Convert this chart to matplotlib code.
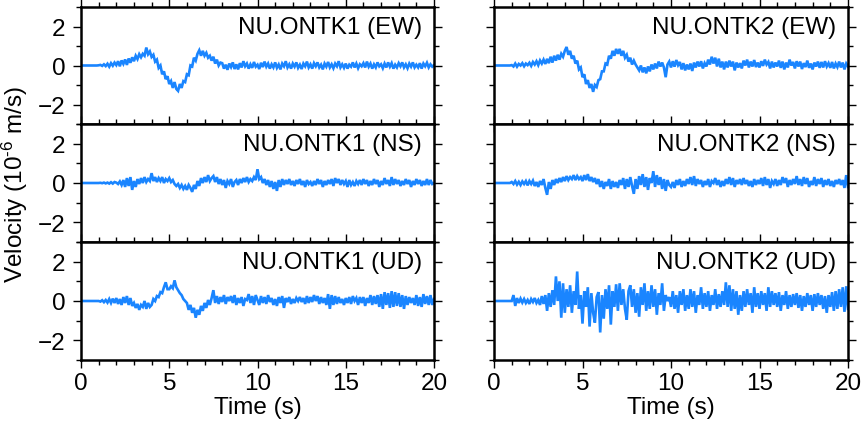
import numpy as np
import matplotlib
matplotlib.use("Agg")
import matplotlib.pyplot as plt
from matplotlib.ticker import MultipleLocator

plt.rcParams['font.family'] = ['Liberation Sans', 'DejaVu Sans']
plt.rcParams['mathtext.fontset'] = 'custom'
plt.rcParams['mathtext.rm'] = 'Liberation Sans'
plt.rcParams['mathtext.it'] = 'Liberation Sans:italic'

# time axis, 0.1 s steps
t = np.arange(201) * 0.1

ew1 = [
    0, 0, 0, 0, 0, 0, 0, 0, 0, 0,
    0.01, 0.03, -0.02, 0.06, -0.03, 0.09, -0.06, 0.12, -0.01, 0.15,
    0.02, 0.22, -0.04, 0.26, 0.08, 0.31, 0.03, 0.36, 0.14, 0.42,
    0.22, 0.5, 0.33, 0.58, 0.42, 0.6, 0.5, 0.92, 0.58, 0.72,
    0.44, 0.55, 0.2, 0.3, -0.12, 0.0, -0.45, -0.3, -0.7, -0.55,
    -0.95, -0.8, -1.15, -0.85, -1.2, -1.3, -0.95, -1.15, -0.8, -0.85,
    -0.45, -0.5, 0.0, -0.05, 0.4, 0.25, 0.6, 0.78, 0.5, 0.75,
    0.5, 0.65, 0.4, 0.5, 0.25, 0.45, 0.1, 0.3, 0.0, 0.15,
    0.12, -0.16, 0.04, -0.22, 0.1, -0.08, 0.16, -0.18, 0.06, -0.2,
    0.12, -0.1, 0.22, -0.04, 0.1, -0.16, 0.06, -0.12, 0.18, -0.06,
    0.04, -0.18, 0.14, -0.08, 0.2, -0.06, 0.1, -0.16, 0.06, -0.1,
    0.16, -0.12, 0.05, -0.2, 0.1, -0.04, 0.22, -0.1, 0.06, -0.16,
    0.1, -0.06, 0.16, -0.12, 0.04, -0.18, 0.1, -0.04, 0.2, -0.1,
    0.06, -0.16, 0.12, -0.04, 0.16, -0.1, 0.04, -0.2, 0.1, -0.06,
    0.18, -0.1, 0.06, -0.14, 0.1, -0.04, 0.22, -0.1, 0.06, -0.12,
    0.1, -0.16, 0.04, -0.06, 0.16, -0.1, 0.1, -0.14, 0.06, -0.04,
    0.12, -0.1, 0.2, -0.06, 0.1, -0.16, 0.06, -0.1, 0.16, -0.04,
    0.06, -0.14, 0.1, -0.1, 0.16, -0.06, 0.12, -0.16, 0.04, -0.1,
    0.12, -0.04, 0.16, -0.1, 0.06, -0.14, 0.1, -0.06, 0.16, -0.1,
    0.04, -0.1, 0.12, -0.16, 0.1, -0.04, 0.14, -0.1, 0.06, -0.06,
    0.02]

ew2 = [
    0, 0, 0, 0, 0, 0, 0, 0, 0, 0,
    0.02, -0.05, 0.1, -0.06, 0.08, 0.0, 0.12, -0.04, 0.1, 0.02,
    0.14, -0.02, 0.18, 0.05, 0.22, 0.02, 0.26, 0.1, 0.3, 0.08,
    0.34, 0.12, 0.45, 0.15, 0.5, 0.25, 0.55, 0.3, 0.6, 0.45,
    0.75, 0.95, 0.55, 0.75, 0.35, 0.5, 0.1, 0.25, -0.2, -0.1,
    -0.6, -0.45, -0.95, -0.75, -1.15, -0.95, -1.35, -1.0, -1.1, -0.75,
    -0.7, -0.3, -0.3, 0.1, 0.05, 0.5, 0.35, 0.75, 0.5, 0.85,
    0.6, 0.85, 0.5, 0.75, 0.4, 0.55, 0.2, 0.4, 0.05, 0.25,
    0.05, -0.1, -0.25, 0.0, -0.35, -0.1, -0.4, -0.05, -0.3, 0.05,
    -0.2, 0.1, -0.15, 0.2, -0.05, 0.15, -0.1, -0.6, 0.05, 0.2,
    -0.1, 0.22, -0.06, 0.28, 0.02, 0.18, -0.2, 0.12, -0.25, 0.05,
    -0.2, 0.1, -0.28, 0.15, -0.1, 0.2, -0.05, 0.22, -0.15, 0.12,
    -0.05, 0.3, 0.05, 0.45, 0.1, 0.4, -0.05, 0.35, -0.1, 0.2,
    -0.2, 0.2, -0.1, 0.25, -0.05, 0.2, -0.25, 0.15, -0.1, 0.12,
    -0.15, 0.25, 0.0, 0.3, -0.1, 0.2, -0.05, 0.28, -0.08, 0.15,
    -0.1, 0.22, -0.02, 0.3, 0.05, 0.18, -0.15, 0.2, -0.1, 0.15,
    -0.05, 0.25, -0.12, 0.2, -0.2, 0.15, -0.1, 0.3, 0.0, 0.18,
    -0.15, 0.22, -0.05, 0.2, -0.18, 0.12, -0.08, 0.25, -0.12, 0.1,
    -0.2, 0.15, -0.05, 0.2, -0.12, 0.18, -0.1, 0.22, -0.05, 0.12,
    -0.12, 0.18, -0.15, 0.1, -0.08, 0.2, -0.1, 0.15, -0.2, 0.1,
    -0.05]

ns1 = [
    0, 0, 0, 0, 0, 0, 0, 0, 0, 0,
    0, 0.01, -0.01, 0.02, -0.02, 0.02, -0.03, 0.04, -0.03, 0.05,
    0.02, -0.05, 0.08, -0.1, 0.15, -0.2, 0.25, -0.15, 0.3, -0.35,
    0.1, -0.2, 0.2, -0.05, 0.25, 0.0, 0.3, 0.05, 0.2, 0.1,
    0.5, 0.1, 0.3, 0.05, 0.25, 0.1, 0.3, 0.0, 0.2, 0.1,
    0.25, 0.05, 0.15, -0.05, -0.15, -0.05, -0.25, -0.1, -0.3, -0.15,
    -0.35, -0.1, -0.25, -0.45, -0.1, -0.3, 0.1, -0.15, 0.25, 0.0,
    0.3, 0.05, 0.4, 0.1, 0.25, 0.35, 0.05, 0.3, -0.05, 0.2,
    -0.1, 0.15, -0.25, 0.1, -0.05, 0.2, -0.2, 0.05, 0.15, -0.1,
    0.2, 0.0, 0.25, 0.05, 0.3, 0.05, 0.2, 0.1, 0.3, 0.15,
    0.7, 0.2, 0.3, 0.0, 0.2, -0.1, 0.15, -0.2, 0.1, -0.3,
    0.05, -0.4, 0.15, -0.2, 0.2, -0.1, 0.15, -0.05, 0.2, -0.1,
    0.1, -0.15, 0.15, -0.05, 0.2, -0.1, 0.1, -0.2, 0.15, -0.05,
    0.05, -0.15, 0.1, -0.1, 0.2, -0.05, 0.15, -0.2, 0.1, -0.1,
    0.15, -0.05, 0.2, -0.15, 0.25, 0.0, 0.2, -0.1, 0.15, -0.05,
    0.1, -0.2, 0.15, -0.1, 0.05, -0.15, 0.1, -0.05, 0.15, -0.1,
    0.2, -0.05, 0.15, -0.15, 0.1, -0.1, 0.2, -0.05, 0.15, -0.2,
    0.1, -0.1, 0.25, -0.05, 0.15, -0.15, 0.3, -0.1, 0.2, -0.05,
    0.15, -0.15, 0.1, -0.1, 0.2, -0.05, 0.15, -0.2, 0.1, -0.1,
    0.2, -0.05, 0.15, -0.15, 0.1, -0.1, 0.2, -0.1, 0.15, -0.05,
    0.0]

ns2 = [
    0, 0, 0, 0, 0, 0, 0, 0, 0, 0,
    0.05, -0.05, 0.1, -0.08, 0.06, -0.1, 0.08, -0.05, 0.1, -0.12,
    0.1, -0.05, 0.12, -0.15, 0.05, -0.2, 0.1, -0.1, 0.2, -0.25,
    -0.6, 0.05, -0.3, 0.15, -0.1, 0.2, 0.0, 0.25, 0.05, 0.3,
    0.1, 0.35, 0.15, 0.3, 0.2, 0.4, 0.15, 0.35, 0.2, 0.3,
    0.1, 0.4, 0.15, 0.45, 0.1, 0.3, 0.05, 0.25, -0.05, 0.2,
    -0.2, 0.1, -0.3, 0.05, -0.15, 0.2, -0.3, 0.1, -0.2, 0.05,
    -0.25, 0.15, -0.1, 0.25, -0.3, 0.2, -0.2, 0.3, -0.15, -0.55,
    0.2, -0.3, 0.35, -0.1, 0.45, -0.2, 0.3, -0.35, 0.25, 0.0,
    0.6, -0.2, 0.4, -0.1, 0.3, -0.3, 0.2, -0.4, 0.15, -0.1,
    -0.2, 0.05, -0.25, 0.15, -0.1, 0.2, -0.2, 0.1, -0.15, 0.2,
    -0.05, 0.3, -0.1, 0.35, -0.15, 0.2, -0.05, 0.15, -0.2, 0.1,
    -0.1, 0.2, -0.2, 0.1, 0.0, 0.25, -0.1, 0.15, -0.2, 0.1,
    -0.15, 0.2, -0.05, 0.3, -0.1, 0.25, -0.2, 0.15, -0.05, 0.2,
    -0.1, 0.25, -0.05, 0.15, -0.15, 0.1, -0.2, 0.2, -0.1, 0.15,
    -0.05, 0.25, -0.15, 0.3, -0.1, 0.2, -0.25, 0.1, -0.05, 0.2,
    -0.15, 0.15, -0.1, 0.3, 0.0, 0.25, -0.2, 0.15, -0.1, 0.2,
    -0.05, 0.35, -0.1, 0.2, -0.15, 0.3, -0.05, 0.25, -0.2, 0.1,
    -0.1, 0.3, -0.15, 0.2, -0.05, 0.25, -0.2, 0.15, -0.1, 0.2,
    -0.15, 0.1, -0.2, 0.15, -0.05, 0.2, -0.1, 0.15, -0.25, 0.4,
    -0.2]

ud1 = [
    0, 0, 0, 0, 0, 0, 0, 0, 0, 0,
    0.0, -0.03, 0.04, -0.06, 0.05, -0.08, 0.1, -0.1, 0.12, -0.1,
    0.15, -0.15, 0.1, -0.2, 0.2, -0.1, 0.25, -0.2, 0.15, -0.25,
    -0.1, -0.35, -0.15, -0.45, -0.2, -0.3, 0.0, -0.4, -0.1, -0.3,
    -0.2, 0.1, 0.0, 0.25, 0.2, 0.45, 0.4, 0.7, 0.95, 0.6,
    0.6, 0.75, 0.65, 1.05, 0.7, 0.55, 0.4, 0.3, 0.1, 0.0,
    -0.1, -0.45, -0.2, -0.6, -0.35, -0.85, -0.45, -0.7, -0.25, -0.5,
    -0.1, -0.35, 0.05, -0.2, 0.15, 0.55, -0.1, 0.25, -0.15, 0.2,
    -0.05, 0.3, -0.15, 0.2, 0.0, 0.25, -0.1, 0.3, -0.2, 0.15,
    -0.1, 0.2, -0.25, 0.1, 0.05, 0.35, -0.1, 0.25, -0.2, 0.3,
    0.05, -0.2, 0.25, -0.1, 0.2, -0.15, 0.3, -0.05, 0.15, -0.2,
    0.1, -0.25, 0.2, -0.1, 0.25, -0.35, 0.15, -0.05, 0.2, -0.15,
    0.1, -0.1, 0.15, 0.0, 0.2, -0.05, 0.15, -0.15, 0.25, -0.1,
    0.2, -0.05, 0.3, 0.0, 0.25, -0.15, 0.2, -0.1, 0.15, -0.2,
    0.35, -0.4, 0.3, -0.2, 0.25, -0.15, 0.2, -0.1, 0.1, -0.2,
    0.15, -0.1, 0.2, -0.15, 0.25, 0.0, 0.15, -0.2, 0.2, -0.1,
    0.2, -0.25, 0.15, -0.1, 0.3, -0.2, 0.25, -0.15, 0.3, -0.3,
    0.35, -0.4, 0.45, -0.2, 0.4, -0.35, 0.5, -0.3, 0.45, -0.25,
    0.4, -0.3, 0.3, -0.4, 0.25, -0.2, 0.2, -0.1, 0.15, -0.2,
    0.3, -0.25, 0.2, -0.3, 0.35, -0.15, 0.25, -0.2, 0.3, -0.2,
    0.1]

ud2 = [
    0, 0, 0, 0, 0, 0, 0, 0, 0, 0,
    0.0, 0.3, -0.25, 0.15, -0.1, 0.12, -0.08, 0.1, -0.1, 0.05,
    -0.15, 0.1, -0.05, 0.15, -0.1, 0.05, -0.2, 0.25, -0.15, 0.3,
    -0.5, 0.4, -0.3, 0.55, -0.2, 1.25, 0.0, 1.0, -0.85, 0.9,
    -0.6, 0.6, -0.3, 0.8, -0.6, 0.5, -0.2, 1.5, -0.4, 0.3,
    -1.15, 0.5, -0.3, 0.7, -1.3, 0.4, -0.6, -1.1, 0.2, 0.45,
    -1.6, 0.3, -0.9, 0.6, -0.4, 0.8, -1.2, 0.5, -0.3, 0.85,
    -0.5, 0.9, -0.2, 0.6, -0.4, -0.95, 0.5, 0.8, -0.3, 0.6,
    -0.6, 0.4, -0.8, 0.7, -0.2, 0.9, -0.5, 0.5, -0.4, 0.8,
    -0.3, 0.6, -0.7, 0.4, -0.2, 0.9, -0.5, 0.3, 0.0, 0.2,
    -0.3, 0.5, -0.4, 0.3, -0.6, 0.5, -0.2, 0.6, -0.5, 0.3,
    -0.4, 0.6, -0.3, 0.5, -0.6, 0.3, -0.2, 0.7, -0.4, 0.4,
    -0.3, 0.5, -0.5, 0.3, -0.2, 0.6, -0.4, 0.35, -0.3, 0.5,
    -0.2, 0.95, -0.3, 0.8, -0.5, 0.6, -0.4, 0.5, -0.7, 0.3,
    -0.5, 0.5, -0.3, 0.6, -0.2, 0.4, -0.6, 0.7, -0.3, 0.4,
    -0.4, 0.5, -0.2, 0.4, -0.5, 0.7, -0.3, 0.5, -0.2, 0.4,
    -0.3, 0.45, -0.5, 0.3, -0.2, 0.5, -0.4, 0.3, -0.3, 0.35,
    -0.2, 0.4, -0.35, 0.3, -0.5, 0.25, -0.3, 0.4, -0.2, 0.3,
    -0.5, 0.35, -0.3, 0.4, -0.2, 0.3, -0.4, 0.25, -0.6, 0.3,
    -0.3, 0.45, -0.5, 0.5, -0.4, 0.6, -0.3, 0.7, -0.55, 0.75,
    -0.4]

traces = [[ew1, ew2], [ns1, ns2], [ud1, ud2]]
labels = [["NU.ONTK1 (EW)", "NU.ONTK2 (EW)"],
          ["NU.ONTK1 (NS)", "NU.ONTK2 (NS)"],
          ["NU.ONTK1 (UD)", "NU.ONTK2 (UD)"]]

W, H = 862, 427
fig = plt.figure(figsize=(W / 100, H / 100), dpi=100)
fig.patch.set_facecolor('white')

col_x = [(81, 434), (494, 848)]
row_y = [(8, 125), (125, 243), (243, 361)]
fs = 17.5
line_col = '#1a85ff'

for r in range(3):
    for c in range(2):
        x0, x1 = col_x[c]
        y0, y1 = row_y[r]
        ax = fig.add_axes([x0 / W, (H - y1) / H, (x1 - x0) / W, (y1 - y0) / H])
        ax.plot(t, traces[r][c], color=line_col, lw=1.9, solid_joinstyle='miter')
        ax.set_xlim(0, 20)
        ax.set_ylim(-3, 3)
        ax.xaxis.set_major_locator(MultipleLocator(5))
        ax.xaxis.set_minor_locator(MultipleLocator(1))
        ax.yaxis.set_major_locator(MultipleLocator(2))
        ax.yaxis.set_minor_locator(MultipleLocator(1))
        ax.tick_params(which='both', direction='out', top=True, right=True,
                       width=1, colors='black', labelsize=fs)
        ax.tick_params(which='major', length=6)
        ax.tick_params(which='minor', length=3.5)
        ax.tick_params(axis='y', pad=5)
        ax.tick_params(axis='x', pad=3)
        for s in ax.spines.values():
            s.set_linewidth(1.8)
        if c == 1:
            ax.tick_params(labelleft=False)
        if r < 2:
            ax.tick_params(labelbottom=False)
        else:
            ax.set_xlabel('Time (s)', fontsize=fs, labelpad=1)
        ax.text(1 - 12 / (x1 - x0), 1 - 9 / (y1 - y0), labels[r][c],
                transform=ax.transAxes, ha='right', va='top', fontsize=fs)

fig.text(15 / W, 1 - 185 / H, r'Velocity (10$^{\text{-6}}$ m/s)', rotation=90,
         ha='center', va='center', fontsize=fs)

fig.savefig('out.png', dpi=100)
